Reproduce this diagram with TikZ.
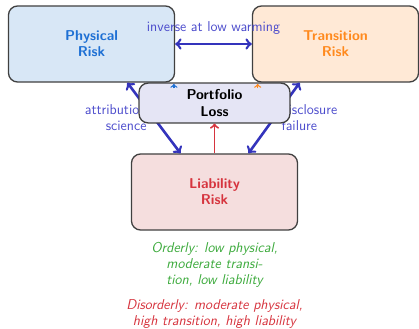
\documentclass[tikz,border=0pt]{standalone}
\usepackage{tikz}
\usetikzlibrary{positioning, arrows.meta}
\definecolor{physfill}{RGB}{216,231,246}
\definecolor{physfg}{RGB}{30,112,212}
\definecolor{transfill}{RGB}{255,233,214}
\definecolor{transfg}{RGB}{255,138,30}
\definecolor{lossfill}{RGB}{229,229,245}
\definecolor{liabfill}{RGB}{245,222,222}
\definecolor{liabfg}{RGB}{214,52,62}
\definecolor{linkcol}{RGB}{52,52,188}
\definecolor{labelcol}{RGB}{76,76,204}
\definecolor{goodcol}{RGB}{60,170,60}
\tikzstyle{riskbox} = [rectangle, rounded corners=7pt, minimum width=4.5cm,
minimum height=2.06cm, text centered, align=center, draw=black!75,
line width=1pt, font=\fontsize{11}{12.5}\selectfont\sffamily\bfseries]
\tikzstyle{lossbox} = [rectangle, rounded corners=7pt, minimum width=4.09cm,
minimum height=1.08cm, text centered, align=center, draw=black!75,
line width=1pt, fill=lossfill, font=\fontsize{11}{12.5}\selectfont\sffamily\bfseries]
\tikzstyle{link} = [line width=2pt, <->, >=to, draw=linkcol]
\tikzstyle{linklabel} = [text=labelcol, font=\fontsize{11}{12.5}\selectfont\sffamily]
\tikzstyle{note} = [align=center, font=\fontsize{11}{12.5}\selectfont\sffamily\itshape]
\begin{document}
\begin{tikzpicture}[x=0.0271cm, y=-0.0271cm]
\useasboundingbox (0,0) rectangle (419,329);

\node (phys) [riskbox, fill=physfill, text=physfg] at (91.5,44)
{Physical \\ Risk};

\node (trans) [riskbox, fill=transfill, text=transfg] at (335.5,44)
{Transition \\ Risk};

\node (liab) [riskbox, fill=liabfill, text=liabfg] at (214.5,192)
{Liability \\ Risk};

%----------links behind the loss box----------------
\draw [link] ([xshift=0.97cm]phys.south) --
node[linklabel, left, align=right, xshift=-0.05cm] {attribution \\ science}
([xshift=-0.92cm]liab.north);
\draw [link] ([xshift=-0.97cm]trans.south) --
node[linklabel, right, align=left, xshift=0.05cm] {disclosure \\ failure}
([xshift=0.92cm]liab.north);

\node (loss) [lossbox] at (214.5,103)
{Portfolio \\ Loss};

%----------links between the boxes----------------
\draw [link] (phys.east) -- node[linklabel, above=0.12cm] {inverse at low warming}
(trans.west);
\draw [line width=1.5pt, ->, >=to, draw=liabfg] (liab.north) -- (loss.south);
\draw [line width=1pt, ->, >=to, draw=physfg] ([xshift=-1.1cm,yshift=-0.16cm]loss.north)
-- ([xshift=-1.1cm,yshift=-0.04cm]loss.north);
\draw [line width=1pt, ->, >=to, draw=transfg] ([xshift=1.17cm,yshift=-0.16cm]loss.north)
-- ([xshift=1.17cm,yshift=-0.04cm]loss.north);

%----------scenario notes----------------
\node (orderly) [note, text=goodcol] at (214.5,265)
{Orderly: low physical, \\ moderate transi- \\ tion, low liability};
\node (disorderly) [note, text=liabfg] at (214.5,314)
{Disorderly: moderate physical, \\ high transition, high liability};

\end{tikzpicture}
\end{document}
